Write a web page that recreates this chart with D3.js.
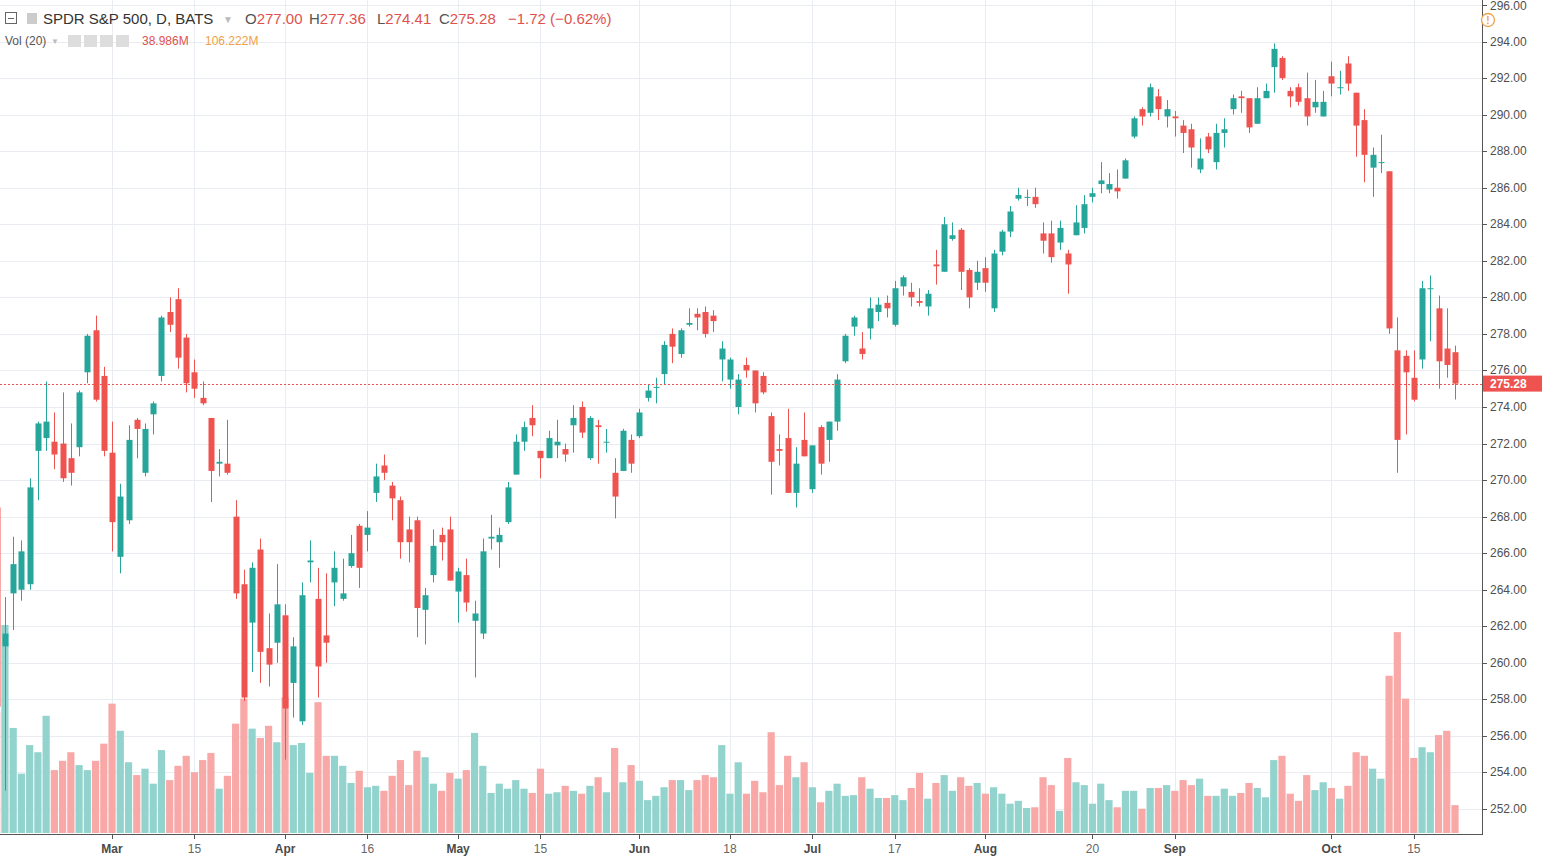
<!DOCTYPE html>
<html lang="en">
<head>
<meta charset="UTF-8">
<title>SPDR S&P 500, D, BATS</title>
<script src="https://d3js.org/d3.v7.min.js"></script>
<style>
  body { margin: 0; background: #fff; overflow: hidden; }
  svg text { font-family: "Liberation Sans", Arial, sans-serif; }
</style>
</head>
<body>
<svg id="chart" width="1542" height="857"></svg>
<script>
// trading days (2018)
var dates = ["02-08","02-09","02-12","02-13","02-14","02-15","02-16","02-20","02-21","02-22","02-23","02-26","02-27","02-28",
  "03-01","03-02","03-05","03-06","03-07","03-08","03-09","03-12","03-13","03-14","03-15","03-16","03-19","03-20","03-21","03-22","03-23","03-26","03-27","03-28","03-29",
  "04-02","04-03","04-04","04-05","04-06","04-09","04-10","04-11","04-12","04-13","04-16","04-17","04-18","04-19","04-20","04-23","04-24","04-25","04-26","04-27","04-30",
  "05-01","05-02","05-03","05-04","05-07","05-08","05-09","05-10","05-11","05-14","05-15","05-16","05-17","05-18","05-21","05-22","05-23","05-24","05-25","05-29","05-30","05-31",
  "06-01","06-04","06-05","06-06","06-07","06-08","06-11","06-12","06-13","06-14","06-15","06-18","06-19","06-20","06-21","06-22","06-25","06-26","06-27","06-28","06-29",
  "07-02","07-03","07-05","07-06","07-09","07-10","07-11","07-12","07-13","07-16","07-17","07-18","07-19","07-20","07-23","07-24","07-25","07-26","07-27","07-30","07-31",
  "08-01","08-02","08-03","08-06","08-07","08-08","08-09","08-10","08-13","08-14","08-15","08-16","08-17","08-20","08-21","08-22","08-23","08-24","08-27","08-28","08-29","08-30","08-31",
  "09-04","09-05","09-06","09-07","09-10","09-11","09-12","09-13","09-14","09-17","09-18","09-19","09-20","09-21","09-24","09-25","09-26","09-27","09-28",
  "10-01","10-02","10-03","10-04","10-05","10-08","10-09","10-10","10-11","10-12","10-15","10-16","10-17","10-18","10-19","10-22"];

var open = [268.5,260.9,263.8,264.0,264.3,271.6,272.3,272.1,272.0,271.2,271.8,275.9,278.2,275.7,
  271.5,265.8,267.8,273.3,270.4,273.6,275.7,279.2,279.9,277.8,275.9,274.5,273.4,270.9,270.9,268.0,264.3,262.2,266.2,260.8,261.1,
  262.6,258.9,256.8,265.5,263.5,261.5,264.4,263.5,265.3,267.5,267.0,269.3,270.8,269.7,268.9,267.3,267.8,262.9,264.8,267.0,267.3,
  263.9,264.8,262.3,261.6,266.8,266.6,267.7,270.3,272.1,273.4,271.6,271.2,271.9,271.7,273.0,274.0,271.2,273.0,272.05,270.4,270.5,272.2,
  272.4,274.5,275.05,275.8,278.0,276.9,278.5,279.1,279.2,279.0,276.6,275.5,274.0,276.3,276.0,275.7,273.5,271.7,272.3,269.3,272.2,
  269.5,272.9,272.2,273.2,276.5,278.4,277.2,278.3,279.2,279.7,278.5,280.6,280.3,279.8,279.5,281.8,281.4,283.2,283.7,281.5,280.8,
  281.6,279.4,282.5,283.6,285.4,285.45,285.5,283.5,283.5,283.0,282.4,283.4,283.8,285.5,286.2,285.9,286.0,286.5,288.8,290.3,290.1,291.0,289.9,
  289.9,289.4,289.2,287.0,288.8,287.4,289.0,290.3,291.0,290.9,289.5,290.9,292.6,293.1,291.3,291.5,290.9,290.4,289.9,
  292.1,291.45,292.8,291.2,289.7,287.1,287.35,286.9,277.1,276.8,275.6,276.6,280.45,279.4,277.2,277.00];

var high = [268.6,263.6,266.9,266.7,270.1,273.2,275.4,273.7,274.8,273.1,274.9,278.0,279.0,276.2,
  273.2,269.8,273.0,273.4,273.1,274.3,279.0,280.0,280.5,278.0,276.6,275.4,273.4,271.7,273.3,268.9,265.1,265.5,266.8,262.7,265.4,
  263.2,261.4,264.4,266.7,265.2,264.9,266.1,265.7,267.0,267.6,268.3,270.9,271.4,269.9,269.1,268.0,268.0,264.1,267.3,267.4,268.0,
  265.2,265.7,263.4,266.8,268.1,267.4,269.9,272.5,273.2,274.1,271.6,272.7,273.3,272.0,274.1,274.3,273.5,273.3,272.8,271.2,272.8,272.5,
  273.9,275.2,275.6,277.6,278.3,278.3,279.4,279.4,279.5,279.3,277.6,276.7,275.8,276.7,276.0,275.9,273.7,272.5,273.9,271.8,273.7,
  271.9,273.0,273.2,275.8,278.0,279.0,278.1,280.0,280.0,280.1,280.9,281.2,280.8,280.5,280.4,282.6,284.4,284.1,283.8,281.6,282.0,
  282.2,282.6,283.7,285.0,286.0,285.9,286.0,284.1,284.2,284.2,282.6,285.05,285.6,286.0,287.4,286.8,287.0,287.6,289.9,290.4,291.7,291.4,290.8,
  290.2,289.7,289.5,288.7,289.0,289.5,289.8,291.1,291.3,290.9,291.5,291.7,293.9,293.2,291.5,291.7,292.3,291.9,291.3,
  292.9,292.4,293.2,291.2,290.3,288.2,288.9,286.9,278.9,277.1,277.1,280.9,281.2,280.1,279.4,277.36];

var low = [257.6,253.0,261.8,263.4,264.0,268.9,271.6,270.6,269.9,269.7,271.3,275.3,274.3,271.3,
  266.1,264.9,267.6,271.2,270.2,272.5,275.4,278.1,276.1,274.8,274.5,274.1,268.8,270.2,270.3,263.5,257.9,259.5,258.9,258.7,260.0,
  254.7,257.0,256.6,264.4,258.1,260.0,263.1,263.4,265.2,264.1,266.1,268.8,270.0,267.8,265.7,265.5,261.4,261.0,264.4,265.6,264.5,
  262.2,262.8,259.2,261.3,266.2,265.2,267.6,270.3,271.6,272.4,270.1,271.2,271.2,271.0,271.5,272.3,271.1,270.9,271.5,267.9,270.5,270.4,
  272.3,274.3,274.2,275.2,276.4,276.7,278.4,278.2,277.8,278.1,275.4,275.0,273.6,275.6,273.7,274.7,269.2,270.8,269.3,268.5,271.3,
  269.3,270.3,271.0,272.7,276.4,277.9,276.6,277.7,278.7,278.9,278.4,280.1,279.5,279.5,279.0,280.7,281.4,283.1,280.4,279.4,280.4,
  280.3,279.2,282.3,283.3,285.3,285.0,284.9,282.4,281.9,282.6,280.2,283.4,283.5,285.2,285.7,285.7,285.4,286.5,288.7,289.4,289.9,289.7,289.3,
  288.8,287.9,287.1,286.8,287.9,287.0,288.2,290.0,290.1,289.0,289.5,290.9,291.2,291.9,290.4,290.5,289.4,290.1,289.9,
  291.0,291.1,291.3,287.7,286.3,285.5,286.8,278.0,270.4,272.5,274.3,276.1,277.6,275.0,275.6,274.41];

var close = [257.6,261.6,265.4,266.1,269.6,273.1,273.2,271.4,270.1,270.4,274.8,277.9,274.4,271.6,
  267.7,269.1,272.2,272.8,272.8,274.2,278.9,278.5,276.7,275.3,275.0,274.2,270.5,271.0,270.4,263.8,258.1,265.2,260.6,259.9,263.2,
  257.5,260.9,263.7,265.6,259.8,261.1,265.2,263.8,266.0,265.2,267.4,270.2,270.4,269.0,266.6,266.6,263.0,263.7,266.4,266.6,264.5,
  265.0,263.3,262.7,266.1,266.9,267.0,269.6,272.1,272.9,273.0,271.2,272.3,272.1,271.4,273.4,272.6,273.4,272.9,272.1,269.1,272.7,270.9,
  273.7,274.9,275.1,277.4,277.3,278.2,278.6,278.9,278.0,278.7,277.2,276.6,275.5,276.0,274.2,274.8,271.0,271.6,269.3,270.9,271.3,
  271.9,270.9,273.2,275.5,277.9,278.9,276.9,279.4,279.6,279.4,280.5,281.1,280.0,279.7,280.2,281.7,284.0,283.4,281.4,280.0,281.4,
  280.8,282.4,283.6,284.7,285.6,285.5,285.1,283.1,282.2,283.8,281.8,284.1,285.1,285.7,286.4,286.2,285.8,287.5,289.8,289.9,291.5,290.3,290.3,
  289.8,289.0,288.2,287.6,288.1,289.0,289.2,290.9,290.9,289.3,290.9,291.3,293.6,292.0,291.0,290.7,289.9,290.7,290.7,
  291.7,291.5,291.7,289.4,287.8,287.8,287.4,278.3,272.2,275.9,274.4,280.5,280.5,276.5,276.3,275.28];

// volume, millions
var volume = [170,291,147,83,123,113,164,88,101,113,95,88,101,125,
  181,143,99,81,90,69,116,74,94,108,85,102,112,62,80,153,188,146,133,150,127,
  190,123,126,84,183,108,108,94,70,87,64,66,59,80,102,67,115,106,69,59,84,
  76,88,140,94,56,69,62,74,62,56,90,55,57,66,59,55,66,78,57,119,71,95,
  73,46,52,64,74,74,60,74,81,78,123,55,99,55,73,57,141,67,108,78,99,
  64,43,59,69,52,53,78,62,49,49,53,46,63,84,48,70,81,59,78,66,70,
  55,64,55,41,45,35,36,78,67,31,105,71,67,41,69,46,36,59,59,34,63,63,67,
  59,74,67,76,52,52,62,52,56,70,63,50,102,108,55,45,81,60,71,
  63,48,66,113,108,90,76,220,281,188,105,120,113,137,143,39];

var tickDates = ["03-01","03-15","04-02","04-16","05-01","05-15","06-01","06-18","07-02","07-17","08-01","08-20","09-04","10-01","10-15"];
var tickLabels = ["Mar","15","Apr","16","May","15","Jun","18","Jul","17","Aug","20","Sep","Oct","15"];
var priceTicks = d3.range(252, 297, 2);
var lastPrice = 275.28;

var UP = "#26a69a", DOWN = "#ef5350", UPV = "#93d3cd", DOWNV = "#f7a8a7";
var plotRight = 1482;

var data = dates.map(function(d, i) {
  return {date: d, o: open[i], h: high[i], l: low[i], c: close[i], v: volume[i]};
});

var svg = d3.select("#chart");

var x = d3.scalePoint().domain(dates).range([-3.3, 1455]);
var y = d3.scaleLinear().domain([252, 296]).range([809, 5]);
var yv = d3.scaleLinear().domain([0, 291]).range([833, 625]);

svg.append("defs").append("clipPath").attr("id", "plot")
  .append("rect").attr("x", 0).attr("y", 0).attr("width", plotRight).attr("height", 834);

// grid
var grid = svg.append("g");
grid.selectAll(".hg").data(priceTicks).enter().append("line")
  .attr("x1", 0).attr("x2", plotRight)
  .attr("y1", function(d) { return Math.round(y(d)) + 0.5; })
  .attr("y2", function(d) { return Math.round(y(d)) + 0.5; })
  .attr("stroke", "#e9edf1");
grid.selectAll(".vg").data(tickDates).enter().append("line")
  .attr("x1", function(d) { return Math.round(x(d)) + 0.5; })
  .attr("x2", function(d) { return Math.round(x(d)) + 0.5; })
  .attr("y1", 0).attr("y2", 834)
  .attr("stroke", "#e9edf1");

var g = svg.append("g").attr("clip-path", "url(#plot)");

// volume
g.selectAll(".vol").data(data).enter().append("rect")
  .attr("x", function(d) { return x(d.date) - 3.6; })
  .attr("width", 7.2)
  .attr("y", function(d) { return yv(d.v); })
  .attr("height", function(d) { return yv(0) - yv(d.v); })
  .attr("fill", function(d) { return d.c >= d.o ? UPV : DOWNV; });

// candles
var candles = g.selectAll(".candle").data(data).enter().append("g");
candles.append("line")
  .attr("x1", function(d) { return Math.round(x(d.date)) + 0.5; })
  .attr("x2", function(d) { return Math.round(x(d.date)) + 0.5; })
  .attr("y1", function(d) { return y(d.h); })
  .attr("y2", function(d) { return y(d.l); })
  .attr("stroke", function(d) { return d.c >= d.o ? UP : DOWN; });
candles.append("rect")
  .attr("x", function(d) { return Math.round(x(d.date)) - 2.5; })
  .attr("width", 6)
  .attr("y", function(d) { return y(Math.max(d.o, d.c)); })
  .attr("height", function(d) { return Math.max(1, Math.abs(y(d.o) - y(d.c))); })
  .attr("fill", function(d) { return d.c >= d.o ? UP : DOWN; });

// last price line
svg.append("line")
  .attr("x1", 0).attr("x2", plotRight)
  .attr("y1", Math.round(y(lastPrice)) + 0.5).attr("y2", Math.round(y(lastPrice)) + 0.5)
  .attr("stroke", DOWN).attr("stroke-dasharray", "2,2");

// right axis
var ax = svg.append("g");
ax.append("line").attr("x1", plotRight + 0.5).attr("x2", plotRight + 0.5).attr("y1", 0).attr("y2", 834)
  .attr("stroke", "#555");
ax.selectAll(".pt").data(priceTicks).enter().append("line")
  .attr("x1", plotRight).attr("x2", plotRight + 5)
  .attr("y1", function(d) { return Math.round(y(d)) + 0.5; })
  .attr("y2", function(d) { return Math.round(y(d)) + 0.5; })
  .attr("stroke", "#555");
ax.selectAll(".pl").data(priceTicks).enter().append("text")
  .attr("x", plotRight + 8).attr("y", function(d) { return Math.max(10, y(d) + 4); })
  .attr("font-size", 12).attr("fill", "#4f4f4f")
  .text(function(d) { return d.toFixed(2); });
ax.append("rect").attr("x", plotRight + 1).attr("y", y(lastPrice) - 8).attr("width", 60).attr("height", 16)
  .attr("fill", DOWN);
ax.append("text").attr("x", plotRight + 8).attr("y", y(lastPrice) + 4)
  .attr("font-size", 12).attr("font-weight", "bold").attr("fill", "#fff").text(lastPrice.toFixed(2));

// bottom axis
svg.append("line").attr("x1", 0).attr("x2", plotRight + 1).attr("y1", 834.5).attr("y2", 834.5).attr("stroke", "#555");
var bx = svg.append("g");
bx.selectAll(".bt").data(tickDates).enter().append("line")
  .attr("x1", function(d) { return Math.round(x(d)) + 0.5; })
  .attr("x2", function(d) { return Math.round(x(d)) + 0.5; })
  .attr("y1", 834).attr("y2", 839).attr("stroke", "#555");
bx.selectAll(".bl").data(tickDates).enter().append("text")
  .attr("x", function(d) { return x(d); }).attr("y", 853)
  .attr("text-anchor", "middle").attr("font-size", 12)
  .attr("font-weight", function(d, i) { return isNaN(+tickLabels[i]) ? "bold" : "normal"; })
  .attr("fill", function(d, i) { return isNaN(+tickLabels[i]) ? "#4a4a4a" : "#666"; })
  .text(function(d, i) { return tickLabels[i]; });

// legend
var hd = svg.append("g");
hd.append("rect").attr("x", 5.5).attr("y", 12.5).attr("width", 11).attr("height", 11).attr("fill", "none").attr("stroke", "#666");
hd.append("line").attr("x1", 8).attr("x2", 14).attr("y1", 18.5).attr("y2", 18.5).attr("stroke", "#666");
hd.append("rect").attr("x", 27).attr("y", 13).attr("width", 10).attr("height", 11).attr("fill", "#ccc");
hd.append("text").attr("x", 43).attr("y", 24).attr("font-size", 15).attr("fill", "#333").text("SPDR S&P 500, D, BATS");
hd.append("text").attr("x", 223).attr("y", 23).attr("font-size", 10).attr("fill", "#bbb").text("▼");
var ohlc = [["O", "277.00", 245], ["H", "277.36", 309], ["L", "274.41", 377], ["C", "275.28", 439]];
ohlc.forEach(function(p) {
  var t = hd.append("text").attr("x", p[2]).attr("y", 24).attr("font-size", 15);
  t.append("tspan").attr("fill", "#555").text(p[0]);
  t.append("tspan").attr("fill", "#e0514e").text(p[1]);
});
hd.append("text").attr("x", 508).attr("y", 24).attr("font-size", 15).attr("fill", "#e0514e").text("−1.72 (−0.62%)");
hd.append("text").attr("x", 5).attr("y", 45).attr("font-size", 12).attr("fill", "#555").text("Vol (20)");
hd.append("text").attr("x", 51).attr("y", 44).attr("font-size", 8).attr("fill", "#bbb").text("▼");
[68, 84, 100, 116].forEach(function(px) {
  hd.append("rect").attr("x", px).attr("y", 35).attr("width", 13).attr("height", 12).attr("fill", "#ddd");
});
hd.append("text").attr("x", 142).attr("y", 45).attr("font-size", 12).attr("fill", "#e0514e").text("38.986M");
hd.append("text").attr("x", 205).attr("y", 45).attr("font-size", 12).attr("fill", "#f0a04b").text("106.222M");
hd.append("circle").attr("cx", 1488).attr("cy", 20).attr("r", 6.5).attr("fill", "#fff").attr("stroke", "#f0a04b").attr("stroke-width", 1.3);
hd.append("text").attr("x", 1488).attr("y", 24).attr("text-anchor", "middle").attr("font-size", 10).attr("font-weight", "bold")
  .attr("fill", "#f0a04b").text("!");
</script>
</body>
</html>
